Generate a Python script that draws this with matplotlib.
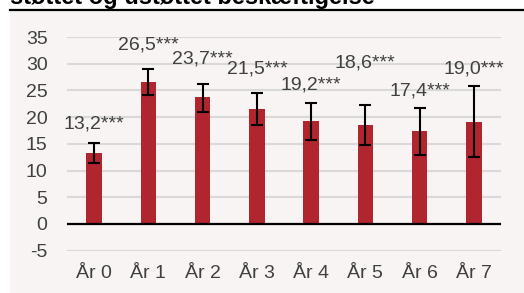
import matplotlib
matplotlib.use("Agg")
import matplotlib.pyplot as plt
from matplotlib.patches import Rectangle
from matplotlib.lines import Line2D
import numpy as np

plt.rcParams['font.family'] = ['Liberation Sans', 'DejaVu Sans']

categories = ["År 0", "År 1", "År 2", "År 3", "År 4", "År 5", "År 6", "År 7"]
values = [13.2, 26.5, 23.7, 21.5, 19.2, 18.6, 17.4, 19.0]
ci_low = [11.4, 24.2, 21.0, 18.5, 15.7, 14.8, 12.9, 12.5]
ci_high = [15.2, 29.0, 26.2, 24.5, 22.6, 22.3, 21.8, 25.8]
labels = ["13,2***", "26,5***", "23,7***", "21,5***", "19,2***", "18,6***", "17,4***", "19,0***"]
yticks = [-5, 0, 5, 10, 15, 20, 25, 30, 35]
title = "støttet og ustøttet beskæftigelse"

# layout: label baselines (data units)
label_pos = [17.9, 32.6, 30.0, 28.2, 25.1, 29.3, 24.0, 28.2]

W, H = 524, 293
fig = plt.figure(figsize=(W / 100, H / 100), dpi=100)
fig.patch.set_facecolor("white")

panel = Rectangle((10 / W, 0), 1 - 10 / W, 1 - 10.5 / H, transform=fig.transFigure,
                  facecolor="#f7f4f3", edgecolor="none", zorder=-5)
fig.patches.append(panel)
fig.lines.append(Line2D([10 / W, 1], [1 - 9.5 / H, 1 - 9.5 / H], transform=fig.transFigure,
                        color="black", lw=1.6))
fig.text(10 / W, 1 - 4.0 / H, title, ha="left", va="baseline", fontsize=17,
         fontweight="bold", color="black")

ax = fig.add_axes([67 / W, 1 - 250.7 / H, (501 - 67) / W, (250.7 - 37) / H])
ax.set_facecolor("none")
ax.set_zorder(2)

x = np.arange(len(categories))
err = [np.array(values) - np.array(ci_low), np.array(ci_high) - np.array(values)]
ax.bar(x, values, width=0.29, color="#b1252f", zorder=3)
ax.errorbar(x, values, yerr=err, fmt="none", ecolor="black", elinewidth=1.5,
            capsize=4, capthick=1.5, zorder=4)
for xi, lab, yp in zip(x, labels, label_pos):
    ax.text(xi, yp, lab, ha="center", va="baseline", fontsize=14, color="#404040", zorder=5)

ax.set_xlim(-0.5, len(categories) - 0.5)
ax.set_ylim(-5, 35)
ax.set_yticks(yticks)
ax.set_yticklabels([str(t) for t in yticks])
ax.set_xticks(x)
ax.set_xticklabels(categories)
ax.yaxis.grid(True, color="#d9d9d9", lw=1.5, zorder=0)
ax.set_axisbelow(True)
ax.axhline(0, color="black", lw=1.6, zorder=4)
for s in ax.spines.values():
    s.set_visible(False)
ax.tick_params(axis="both", length=0, labelsize=14, colors="#404040")
ax.tick_params(axis="y", pad=14)
ax.tick_params(axis="x", pad=10)

fig.savefig("out.png", dpi=100, facecolor="white")
